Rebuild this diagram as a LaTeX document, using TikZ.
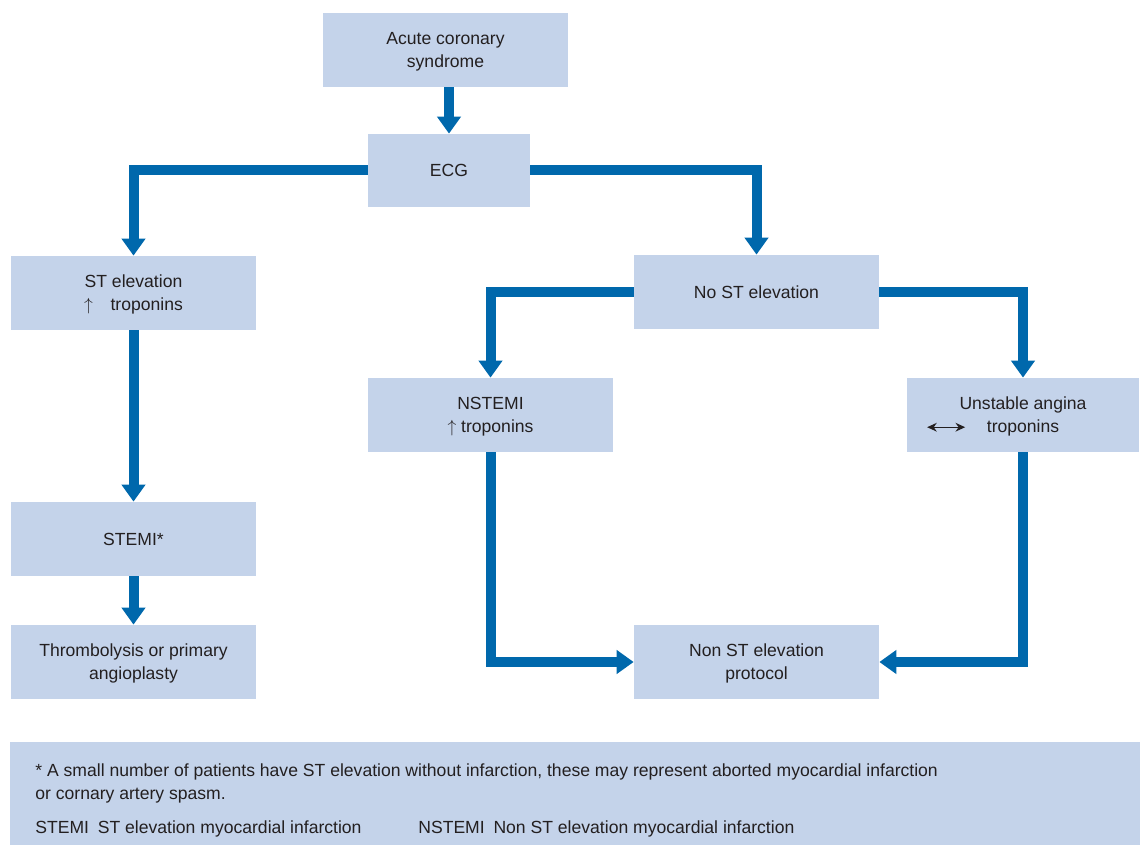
\documentclass[tikz,border=0pt]{standalone}
\usepackage{fontspec}
\setmainfont{Liberation Sans}
\usetikzlibrary{positioning, arrows.meta}
\definecolor{ACSBox}{RGB}{196,211,234}
\definecolor{ACSBlue}{RGB}{0,104,172}
\definecolor{ACSText}{RGB}{35,31,32}
\newcommand{\twoway}{\tikz[baseline=-0.6ex]\draw[line width=0.7pt,
    {Stealth[length=5.5pt, width=5pt]}-{Stealth[length=5.5pt, width=5pt]}] (0,0) -- (0.76,0);}

\begin{document}
\begin{tikzpicture}[
          box/.style={rectangle, fill=ACSBox, text=ACSText, align=center,
                      minimum width=4.9cm, minimum height=1.48cm, text depth=0pt,
                      font=\fontsize{10pt}{13pt}\selectfont},
          flow/.style={draw=ACSBlue, line width=0.2cm,
                       -{Triangle[length=0.34cm, width=0.46cm]}},
          note/.style={font=\fontsize{10pt}{12pt}\selectfont,
                       text=ACSText, anchor=west, inner sep=0pt}
        ]
        \useasboundingbox (0, 0) rectangle (22.8, -16.9);

        % Top of the chart
        \node[box] (acs) at (8.91, -1.00) {Acute coronary\\syndrome};
        \node[box, minimum width=3.24cm, minimum height=1.46cm] (ecg) at (8.98, -3.41) {ECG};

        % ST elevation branch
        \node[box] (stel) at (2.67, -5.86) {ST elevation\\$\uparrow$\quad troponins};
        \node[box] (stemi) at (2.67, -10.78) {STEMI*};
        \node[box] (lysis) at (2.67, -13.24) {Thrombolysis or primary\\angioplasty};

        % No ST elevation branch
        \node[box] (nost) at (15.13, -5.84) {No ST elevation};
        \node[box] (nstemi) at (9.81, -8.30) {NSTEMI\\$\uparrow$ troponins};
        \node[box, minimum width=4.64cm] (ua) at (20.46, -8.30)
             {Unstable angina\\\llap{\twoway\hspace{1.2em}}troponins};
        \node[box] (prot) at (15.13, -13.24) {Non ST elevation\\protocol};

        % Arrows
        \draw[flow] (acs.south -| ecg.north) -- (ecg.north);
        \draw[flow] (ecg.west) -| (stel.north);
        \draw[flow] (ecg.east) -| (nost.north);
        \draw[flow] (stel) -- (stemi);
        \draw[flow] (stemi) -- (lysis);
        \draw[flow] (nost.west) -| (nstemi.north);
        \draw[flow] (nost.east) -| (ua.north);
        \draw[flow] (nstemi.south) |- (prot.west);
        \draw[flow] (ua.south) |- (prot.east);

        % Footnote
        \fill[ACSBox] (0.2, -14.84) rectangle (22.8, -16.9);
        \node[note] (fn1) at (0.7, -15.43) {* A small number of patients have ST elevation without infarction, these may represent aborted myocardial infarction};
        \node[note] (fn2) at (0.7, -15.91) {or cornary artery spasm.};
        \node[note] (fn3) at (0.7, -16.57) {STEMI\enspace ST elevation myocardial infarction};
        \node[note] (fn4) at (8.36, -16.57) {NSTEMI\enspace Non ST elevation myocardial infarction};
      \end{tikzpicture}
\end{document}
